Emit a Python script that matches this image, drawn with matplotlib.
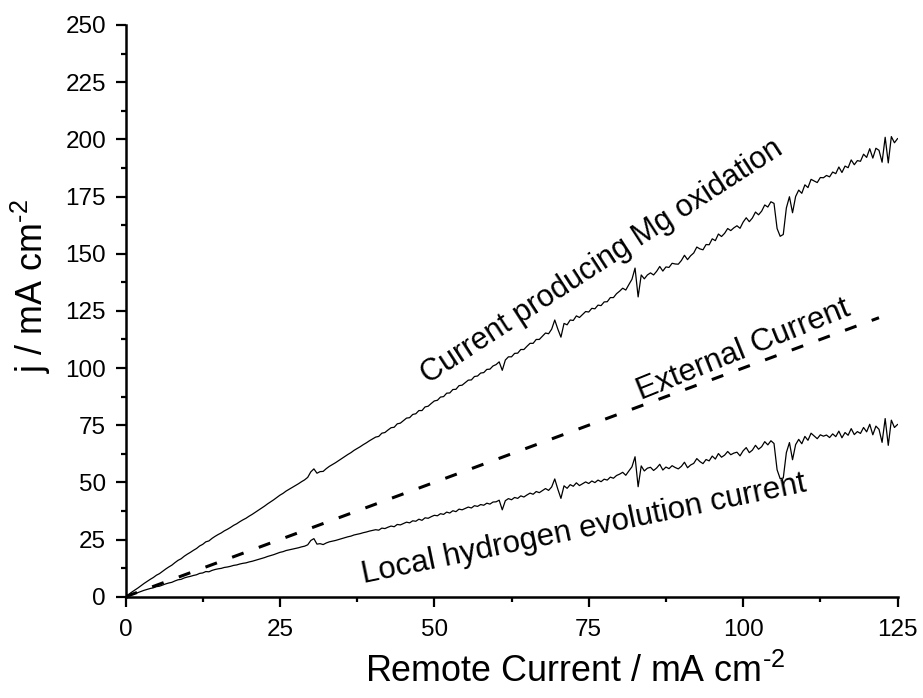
import matplotlib
matplotlib.use("Agg")
import matplotlib.pyplot as plt
from matplotlib.ticker import MultipleLocator

# ---- data ----
remote_current = [i * 0.5 for i in range(251)]  # 0 ... 125 mA cm^-2, step 0.5

hydrogen_current = [
    0.0, 0.5, 1.0, 1.4, 1.8, 2.3, 2.8, 3.2, 3.6, 3.9,
    4.4, 4.6, 5.1, 5.6, 6.0, 6.3, 6.9, 7.4, 7.6, 8.2,
    8.6, 8.9, 9.3, 9.6, 10.2, 10.4, 11.0, 10.9, 11.5, 11.9,
    12.2, 12.4, 12.8, 13.0, 13.3, 13.7, 13.9, 14.3, 14.6, 14.8,
    15.2, 15.5, 15.9, 16.3, 16.7, 17.1, 17.6, 18.0, 18.4, 18.9,
    19.4, 19.7, 20.2, 20.5, 20.8, 21.1, 21.4, 21.8, 22.1, 22.7,
    24.6, 25.4, 23.0, 23.2, 22.8, 23.5, 24.0, 24.3, 24.6, 25.0,
    25.4, 25.8, 26.2, 26.5, 27.0, 27.3, 27.6, 28.0, 28.3, 28.7,
    29.0, 29.3, 29.1, 30.0, 29.8, 30.4, 30.9, 30.6, 31.6, 31.4,
    32.0, 32.6, 32.3, 33.2, 33.0, 33.9, 33.4, 34.5, 34.3, 35.0,
    35.6, 35.4, 36.3, 36.0, 37.0, 36.6, 37.6, 37.2, 38.3, 38.0,
    38.6, 39.2, 38.8, 39.8, 39.5, 40.3, 40.0, 40.9, 40.5, 41.4,
    41.5, 42.2, 38.0, 42.0, 42.9, 42.4, 43.4, 43.0, 44.1, 43.6,
    44.5, 45.3, 44.8, 46.0, 45.5, 46.4, 47.3, 46.5, 48.0, 51.5,
    47.0, 43.0, 48.5, 47.4, 49.0, 48.3, 49.8, 48.6, 49.4, 50.2,
    49.5, 50.6, 49.9, 51.0, 50.3, 51.4, 51.0, 52.3, 51.8, 53.0,
    53.6, 54.4, 53.1, 55.0, 56.8, 61.2, 48.1, 57.2, 55.0, 56.2,
    56.6, 55.2, 56.3, 57.9, 55.4, 56.7, 56.0, 57.3, 56.5, 55.9,
    57.0, 58.8, 56.4, 57.6, 58.3, 60.4, 59.1, 58.2, 60.0, 59.4,
    61.5, 60.2, 62.6, 61.0, 61.9, 63.5, 62.1, 62.8, 63.2, 61.6,
    63.8, 65.2, 63.0, 64.1, 66.2, 64.5, 65.6, 67.8, 66.4, 68.2,
    67.0, 55.5, 51.6, 51.9, 63.0, 67.4, 59.9, 66.5, 68.8, 66.9,
    70.1, 68.4, 71.5, 70.3, 69.1, 70.8, 70.2, 70.7, 69.6, 71.2,
    70.0, 72.4, 69.5, 71.8, 70.6, 73.5, 70.9, 72.2, 71.4, 74.0,
    72.1, 75.4, 70.8, 74.6, 73.2, 67.5, 77.9, 66.2, 77.2, 74.0,
    75.3,
]

mg_oxidation_current = [
    0.0, 1.0, 2.0, 2.9, 3.8, 4.8, 5.8, 6.7, 7.6, 8.4,
    9.4, 10.1, 11.1, 12.1, 13.0, 13.8, 14.9, 15.9, 16.6, 17.7,
    18.6, 19.4, 20.3, 21.1, 22.2, 22.9, 24.0, 24.4, 25.5, 26.4,
    27.2, 27.9, 28.8, 29.5, 30.3, 31.2, 31.9, 32.8, 33.6, 34.3,
    35.2, 36.0, 36.9, 37.8, 38.7, 39.6, 40.6, 41.5, 42.4, 43.4,
    44.4, 45.2, 46.2, 47.0, 47.8, 48.6, 49.4, 50.3, 51.1, 52.2,
    54.6, 55.9, 54.0, 54.7, 54.8, 56.0, 57.0, 57.8, 58.6, 59.5,
    60.4, 61.3, 62.2, 63.0, 64.0, 64.8, 65.6, 66.5, 67.3, 68.2,
    69.0, 69.8, 70.1, 71.5, 71.8, 72.9, 73.9, 74.1, 75.6, 75.9,
    77.0, 78.1, 78.3, 79.7, 80.0, 81.4, 81.4, 83.0, 83.3, 84.5,
    85.6, 85.9, 87.3, 87.5, 89.0, 89.1, 90.6, 90.7, 92.3, 92.5,
    93.6, 94.7, 94.8, 96.3, 96.5, 97.8, 98.0, 99.4, 99.5, 100.9,
    101.5, 102.7, 99.0, 103.5, 104.9, 104.9, 106.4, 106.5, 108.1, 108.1,
    109.5, 110.8, 110.8, 112.5, 112.5, 113.9, 115.3, 115.0, 117.0, 121.0,
    117.0, 113.5, 119.5, 118.9, 121.0, 120.8, 122.8, 122.1, 123.4, 124.7,
    124.5, 126.1, 125.9, 127.5, 127.3, 128.9, 129.0, 130.8, 130.8, 132.5,
    133.6, 134.9, 134.1, 136.5, 138.8, 143.7, 131.1, 140.7, 139.0, 140.7,
    141.6, 140.7, 142.3, 144.4, 142.4, 144.2, 144.0, 145.8, 145.5, 145.4,
    147.0, 149.3, 147.4, 149.1, 150.3, 152.9, 152.1, 151.7, 154.0, 153.9,
    156.5, 155.7, 158.6, 157.5, 158.9, 161.0, 160.1, 161.3, 162.2, 161.1,
    163.8, 165.7, 164.0, 165.6, 168.2, 167.0, 168.6, 171.3, 170.4, 172.7,
    172.0, 161.0, 157.6, 158.4, 170.0, 174.9, 167.9, 175.0, 177.8, 176.4,
    180.1, 178.9, 182.5, 181.8, 181.1, 183.3, 183.2, 184.2, 183.6, 185.7,
    185.0, 187.9, 185.5, 188.3, 187.6, 191.0, 188.9, 190.7, 190.4, 193.5,
    192.1, 195.9, 191.8, 196.1, 195.2, 190.0, 200.9, 189.7, 201.2, 198.5,
    200.3,
]

external_x = [0.0, 122.0]
external_y = [0.0, 122.0]

x_ticks = [0, 25, 50, 75, 100, 125]
y_ticks = [0, 25, 50, 75, 100, 125, 150, 175, 200, 225, 250]

plt.rcParams['font.family'] = ['Liberation Sans', 'DejaVu Sans']
plt.rcParams['mathtext.fontset'] = 'custom'
plt.rcParams['mathtext.rm'] = 'Liberation Sans'
plt.rcParams['mathtext.it'] = 'Liberation Sans:italic'
plt.rcParams['mathtext.bf'] = 'Liberation Sans:bold'

fig = plt.figure(figsize=(9.23, 6.98), dpi=100)
ax = fig.add_axes([0.136, 0.1451, 0.8364, 0.8191])

ax.plot(remote_current, mg_oxidation_current, color='black', lw=0.9)
ax.plot(remote_current, hydrogen_current, color='black', lw=0.9)
ax.plot(external_x, external_y, color='black', lw=2.2,
        linestyle=(0, (4.0, 5.3)), dash_capstyle='butt')

ax.set_xlim(0, 125)
ax.set_ylim(0, 250)
ax.set_xticks(x_ticks)
ax.set_yticks(y_ticks)
ax.xaxis.set_minor_locator(MultipleLocator(12.5))
ax.yaxis.set_minor_locator(MultipleLocator(12.5))

for s in ['top', 'right']:
    ax.spines[s].set_visible(False)
for s in ['left', 'bottom']:
    ax.spines[s].set_linewidth(1.8)

ax.tick_params(which='major', direction='out', length=7, width=1.6,
               labelsize=17.5)
ax.tick_params(axis='x', which='major', pad=9)
ax.tick_params(axis='y', which='major', pad=7)
ax.tick_params(which='minor', direction='out', length=3.5, width=1.6)

sup = '$^{\u2010\\mathregular{2}}$'
ax.set_xlabel('Remote Current / mA cm' + sup, fontsize=25.8,
              ha='center', va='center')
ax.xaxis.set_label_coords(0.582, -0.1317)
ax.set_ylabel('j / mA cm' + sup, fontsize=25.8, ha='center', va='center')
ax.yaxis.set_label_coords(-0.122, 0.5435)

ax.text(77.2, 146.5, 'Current producing Mg oxidation', fontsize=22,
        rotation=33, ha='center', va='center', rotation_mode='anchor')
ax.text(100.1, 107.9, 'External Current', fontsize=22.5,
        rotation=22.0, ha='center', va='center', rotation_mode='anchor')
ax.text(74.2, 29.6, 'Local hydrogen evolution current', fontsize=22.5,
        rotation=11.7, ha='center', va='center', rotation_mode='anchor')

fig.savefig('out.png', dpi=100)
